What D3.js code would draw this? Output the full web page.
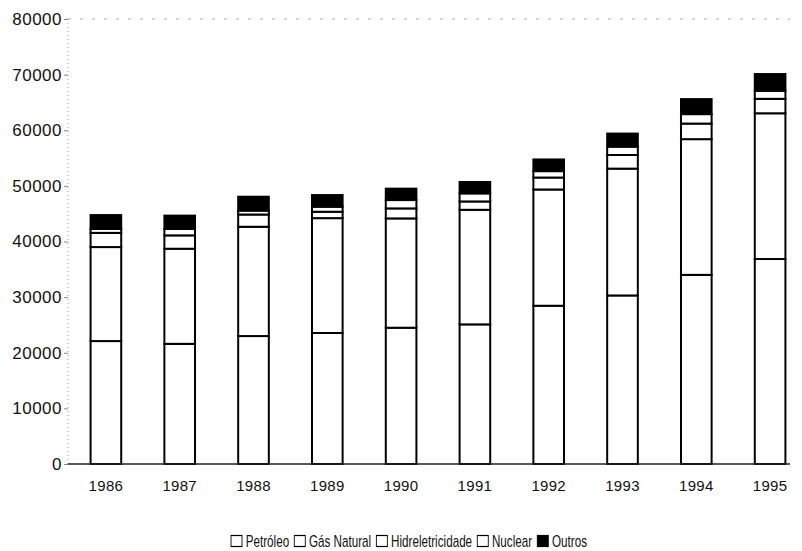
<!DOCTYPE html>
<html>
<head>
<meta charset="utf-8">
<script src="https://cdn.jsdelivr.net/npm/d3@7"></script>
<style>
  body { margin: 0; background: #fff; }
  svg { display: block; font-family: 'Liberation Sans', Arial, sans-serif; }
</style>
</head>
<body>
<svg width="802" height="551"></svg>
<script>
// data
const YEARS = ['1986', '1987', '1988', '1989', '1990', '1991', '1992', '1993', '1994', '1995'];
const SERIES = ['Petróleo', 'Gás Natural', 'Hidreletricidade', 'Nuclear', 'Outros'];
const PETROLEO = [22100, 21600, 23000, 23550, 24500, 25100, 28450, 30300, 34000, 36850];
const GAS = [16900, 17100, 19650, 20650, 19650, 20600, 20900, 22800, 24400, 26200];
const HIDRO = [2550, 2400, 2200, 1150, 1800, 1500, 2150, 2450, 2800, 2600];
const NUCLEAR = [700, 1150, 700, 900, 1500, 1450, 1150, 1500, 1700, 1450];
const OUTROS = [2500, 2400, 2500, 2100, 2050, 2050, 2100, 2350, 2700, 3000];
const Y_TICKS = [0, 10000, 20000, 30000, 40000, 50000, 60000, 70000, 80000];
const FILLS = ['#fff', '#fff', '#fff', '#fff', '#000'];

const ROWS = YEARS.map((y, i) => ({
  year: y,
  'Petróleo': PETROLEO[i],
  'Gás Natural': GAS[i],
  'Hidreletricidade': HIDRO[i],
  'Nuclear': NUCLEAR[i],
  'Outros': OUTROS[i]
}));

const SVG = d3.select('svg');
const LEFT = 68;
const TOP = 19;
const BOTTOM = 464;
const RIGHT = 790;

const Y_SCALE = d3.scaleLinear().domain([0, 80000]).range([BOTTOM, TOP]);
const X_SCALE = d3.scaleBand()
  .domain(YEARS)
  .range([69, 807])
  .paddingInner(0.585)
  .paddingOuter(0.2925);

// faint frame (dotted left axis + dashed top)
SVG.append('line')
  .attr('x1', LEFT).attr('x2', LEFT)
  .attr('y1', TOP).attr('y2', BOTTOM)
  .style('stroke', '#999').style('stroke-width', 1)
  .style('stroke-dasharray', '1,3');
SVG.append('line')
  .attr('x1', LEFT).attr('x2', RIGHT)
  .attr('y1', TOP).attr('y2', TOP)
  .style('stroke', '#aaa').style('stroke-width', 1)
  .style('stroke-dasharray', '3,9');

// y axis
const Y_AXIS_G = SVG.append('g')
  .attr('transform', `translate(${LEFT},0)`)
  .call(d3.axisLeft(Y_SCALE).tickValues(Y_TICKS).tickFormat(d3.format('d')).tickSize(4).tickPadding(2));
Y_AXIS_G.select('.domain').remove();
Y_AXIS_G.selectAll('.tick line').style('stroke', '#888');
Y_AXIS_G.selectAll('text')
  .style('font-size', '17px')
  .style('letter-spacing', '0.5px')
  .style('fill', '#111');

// x axis
const X_AXIS_G = SVG.append('g')
  .attr('transform', `translate(0,${BOTTOM})`)
  .call(d3.axisBottom(X_SCALE).tickSize(0).tickPadding(16));
X_AXIS_G.select('.domain').remove();
X_AXIS_G.selectAll('text')
  .style('font-size', '15px')
  .style('letter-spacing', '0.3px')
  .style('fill', '#111');

// stacked bars
const STACK = d3.stack().keys(SERIES)(ROWS);
SVG.append('g')
  .selectAll('g')
  .data(STACK)
  .join('g')
  .style('fill', (d, i) => FILLS[i])
  .selectAll('rect')
  .data(d => d)
  .join('rect')
  .attr('x', d => X_SCALE(d.data.year))
  .attr('y', d => Y_SCALE(d[1]))
  .attr('width', X_SCALE.bandwidth())
  .attr('height', d => Y_SCALE(d[0]) - Y_SCALE(d[1]))
  .style('stroke', '#000')
  .style('stroke-width', 2);

// baseline
SVG.append('line')
  .attr('x1', LEFT).attr('x2', RIGHT)
  .attr('y1', BOTTOM).attr('y2', BOTTOM)
  .style('stroke', '#222').style('stroke-width', 1.5);

// legend (condensed horizontally like the scan)
const SX = 0.73;
const LEGEND_OUTER = SVG.append('g');
const LEGEND = LEGEND_OUTER.append('g');
let xPos = 0;
SERIES.forEach((s, i) => {
  LEGEND.append('rect')
    .attr('x', xPos)
    .attr('y', -5.5)
    .attr('width', 11 / SX)
    .attr('height', 11)
    .style('fill', FILLS[i])
    .style('stroke', '#000')
    .style('stroke-width', 1.2);
  const T = LEGEND.append('text')
    .attr('x', xPos + 11 / SX + 5)
    .attr('y', 6)
    .text(s)
    .style('font-size', '16px')
    .style('fill', '#111');
  xPos += 11 / SX + 5 + T.node().getComputedTextLength() + 7;
});
const W = (xPos - 7) * SX;
LEGEND.attr('transform', `scale(${SX},1)`);
LEGEND_OUTER.attr('transform', `translate(${409 - W / 2},541)`);
</script>
</body>
</html>
